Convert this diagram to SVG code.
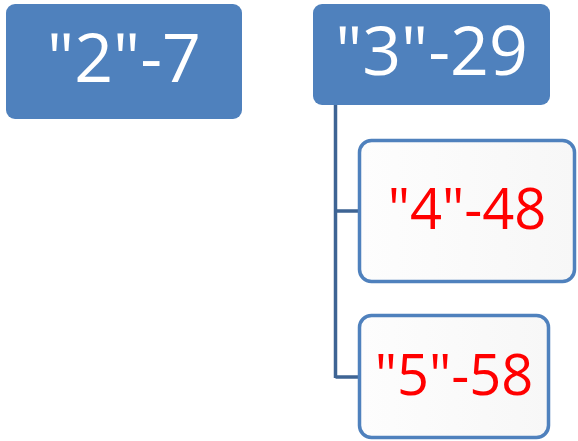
<svg xmlns="http://www.w3.org/2000/svg" width="578" height="441" viewBox="0 0 578 441">
<defs>
<linearGradient id="wg" x1="0" y1="0" x2="1" y2="0"><stop offset="0" stop-color="#fdfdfd"/><stop offset="1" stop-color="#f7f7f7"/></linearGradient>
</defs>
<style>
.top rect{fill:#4f81bd;}
.top text{fill:#ffffff;font-family:"Open Sans","Noto Sans",sans-serif;font-size:68px;text-anchor:middle;}
.sub rect{fill:url(#wg);stroke:#4f81bd;stroke-width:3.5;}
.sub text{fill:#ff0000;font-family:"Open Sans","Noto Sans",sans-serif;font-size:56px;text-anchor:middle;}
.conn path{fill:none;stroke:#3e6494;stroke-width:3.5;}
</style>
<g class="conn" id="connectors">
<path d="M335.5,105 V378 M335.5,211 H359 M335.5,377 H359"/>
</g>
<g class="top" id="n2"><rect x="6" y="4" width="236" height="115" rx="9"/><text x="124" y="82">"2"-7</text></g>
<g class="top" id="n3"><rect x="313" y="4" width="237" height="101" rx="9"/><text x="431.5" y="75">"3"-29</text></g>
<g class="sub" id="n4"><rect x="359.5" y="140.5" width="215" height="141" rx="12"/><text x="467" y="229">"4"-48</text></g>
<g class="sub" id="n5"><rect x="359.5" y="315.5" width="189" height="122" rx="12"/><text x="454" y="395">"5"-58</text></g>
</svg>
